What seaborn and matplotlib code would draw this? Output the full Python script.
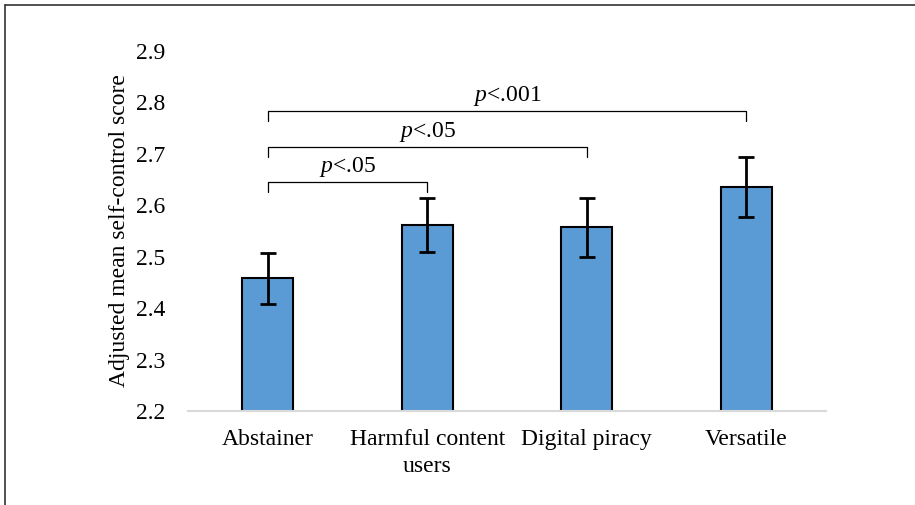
import seaborn as sns
import matplotlib.pyplot as plt
import pandas as pd
from matplotlib.lines import Line2D

# Данные
groups = ['Abstainer', 'Harmful content\nusers', 'Digital piracy', 'Versatile']
means = [2.458, 2.562, 2.557, 2.636]
errors = [0.050, 0.052, 0.058, 0.058]

# Сравнения: (индекс группы, уровень скобки, подпись)
pairs = [(1, 2.645, '$p$<.05'), (2, 2.714, '$p$<.05'), (3, 2.784, '$p$<.001')]

df = pd.DataFrame({'group': groups, 'mean': means})

sns.set_style('white')
plt.rcParams['font.family'] = ['Liberation Serif', 'DejaVu Serif']
plt.rcParams['mathtext.fontset'] = 'custom'
plt.rcParams['mathtext.it'] = 'Liberation Serif:italic'
plt.rcParams['mathtext.rm'] = 'Liberation Serif'
plt.rcParams['text.color'] = 'black'
plt.rcParams['axes.labelcolor'] = 'black'
plt.rcParams['xtick.color'] = 'black'
plt.rcParams['ytick.color'] = 'black'

fig = plt.figure(figsize=(9.15, 5.05), dpi=100)
ax = fig.add_axes([0.2055, 0.186, 0.697, 0.713])

sns.barplot(data=df, x='group', y='mean', color='#5B9BD5', saturation=1,
            width=0.32, edgecolor='black', linewidth=1.5, errorbar=None, ax=ax)
ax.errorbar(range(len(groups)), means, yerr=errors, fmt='none',
            ecolor='black', elinewidth=2, capsize=6, capthick=2)

# Скобки значимости
for idx, level, label in pairs:
    ax.plot([0, 0, idx, idx], [level - 0.02, level, level, level - 0.02],
            color='black', lw=0.9)
    ax.text(idx / 2, level + 0.006, label, ha='center', va='bottom', fontsize=17)

ax.set_ylim(2.2, 2.9)
ax.set_xlim(-0.5, 3.5)
ax.set_yticks([2.2, 2.3, 2.4, 2.5, 2.6, 2.7, 2.8, 2.9])
ax.set_yticklabels(['2.2', '2.3', '2.4', '2.5', '2.6', '2.7', '2.8', '2.9'])
ax.set_xlabel('')
ax.set_ylabel('Adjusted mean self-control score', fontsize=17, labelpad=4)
ax.tick_params(axis='both', labelsize=17, length=0)
ax.tick_params(axis='y', pad=16.5)
ax.tick_params(axis='x', pad=13)
for lbl in ax.get_xticklabels():
    lbl.set_linespacing(1.35)
for side in ['left', 'right', 'top']:
    ax.spines[side].set_visible(False)
ax.spines['bottom'].set_color('#d9d9d9')
ax.spines['bottom'].set_linewidth(1.5)

# Рамка (левая и верхняя граница)
fig.add_artist(Line2D([0.006, 0.006], [0, 0.99], color='#333333', lw=1.2))
fig.add_artist(Line2D([0.006, 1], [0.99, 0.99], color='#333333', lw=1.2))

fig.savefig('out.png', dpi=100)
